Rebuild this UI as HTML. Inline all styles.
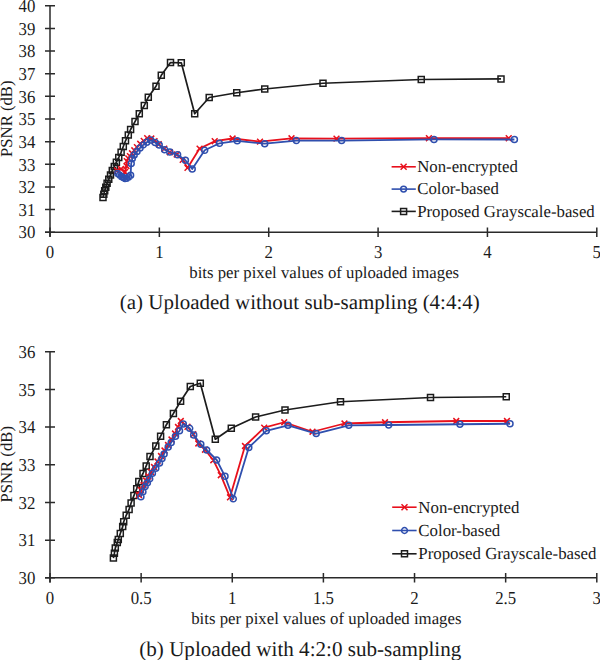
<!DOCTYPE html>
<html><head><meta charset="utf-8"><title>PSNR charts</title>
<style>html,body{margin:0;padding:0;background:#fff;}body{width:600px;height:660px;overflow:hidden;font-family:"Liberation Serif",serif;}svg{display:block;}</style>
</head><body><svg width="600" height="660" viewBox="0 0 600 660" text-rendering="geometricPrecision" font-family='"Liberation Serif", serif' fill="#1a1a1a"><path d="M50 5.8V236.79999999999998M45 232.2H596.8" stroke="#2a2a2a" stroke-width="1.5" fill="none"/><path d="M45 232.20h10M45 209.56h10M45 186.92h10M45 164.28h10M45 141.64h10M45 119.00h10M45 96.36h10M45 73.72h10M45 51.08h10M45 28.44h10M45 5.80h10M50.00 227.39999999999998v9.6M159.36 227.39999999999998v9.6M268.72 227.39999999999998v9.6M378.08 227.39999999999998v9.6M487.44 227.39999999999998v9.6M596.80 227.39999999999998v9.6" stroke="#2a2a2a" stroke-width="1.5" fill="none"/><text transform="translate(35.30 232.20) scale(1 1.09)" y="5.75" font-size="16.8" text-anchor="end">30</text><text transform="translate(35.30 209.56) scale(1 1.09)" y="5.75" font-size="16.8" text-anchor="end">31</text><text transform="translate(35.30 186.92) scale(1 1.09)" y="5.75" font-size="16.8" text-anchor="end">32</text><text transform="translate(35.30 164.28) scale(1 1.09)" y="5.75" font-size="16.8" text-anchor="end">33</text><text transform="translate(35.30 141.64) scale(1 1.09)" y="5.75" font-size="16.8" text-anchor="end">34</text><text transform="translate(35.30 119.00) scale(1 1.09)" y="5.75" font-size="16.8" text-anchor="end">35</text><text transform="translate(35.30 96.36) scale(1 1.09)" y="5.75" font-size="16.8" text-anchor="end">36</text><text transform="translate(35.30 73.72) scale(1 1.09)" y="5.75" font-size="16.8" text-anchor="end">37</text><text transform="translate(35.30 51.08) scale(1 1.09)" y="5.75" font-size="16.8" text-anchor="end">38</text><text transform="translate(35.30 28.44) scale(1 1.09)" y="5.75" font-size="16.8" text-anchor="end">39</text><text transform="translate(35.30 5.80) scale(1 1.09)" y="5.75" font-size="16.8" text-anchor="end">40</text><text transform="translate(50.00 251.40) scale(1 1.09)" y="5.75" font-size="16.8" text-anchor="middle">0</text><text transform="translate(159.36 251.40) scale(1 1.09)" y="5.75" font-size="16.8" text-anchor="middle">1</text><text transform="translate(268.72 251.40) scale(1 1.09)" y="5.75" font-size="16.8" text-anchor="middle">2</text><text transform="translate(378.08 251.40) scale(1 1.09)" y="5.75" font-size="16.8" text-anchor="middle">3</text><text transform="translate(487.44 251.40) scale(1 1.09)" y="5.75" font-size="16.8" text-anchor="middle">4</text><text transform="translate(596.80 251.40) scale(1 1.09)" y="5.75" font-size="16.8" text-anchor="middle">5</text><text x="189.3" y="277.7" font-size="16.75" text-anchor="start" >bits per pixel values of uploaded images</text><text x="119.8" y="309.3" font-size="20.98" text-anchor="start" >(a) Uploaded without sub-sampling (4:4:4)</text><text x="12.0" y="118.7" font-size="16.7" text-anchor="middle" transform="rotate(-90 12.0 118.7)">PSNR (dB)</text><polyline points="103.00,197.50 103.80,194.20 104.70,190.80 105.80,187.20 107.10,183.30 108.75,179.30 110.50,175.00 112.30,170.60 114.30,166.40 116.40,162.20 118.75,157.50 121.10,152.30 123.30,146.50 125.50,140.80 128.30,135.00 130.60,129.50 135.00,121.60 139.30,113.80 144.30,105.50 148.30,97.20 156.00,86.20 161.30,75.30 170.50,62.50 181.30,62.80 194.70,113.80 209.20,97.50 236.75,92.75 264.75,89.00 323.00,83.25 421.25,79.50 501.00,78.90" fill="none" stroke="#1c1c1c" stroke-width="1.7" stroke-linejoin="round"/><path d="M100.00 194.50h6.0v6.0h-6.0zM100.80 191.20h6.0v6.0h-6.0zM101.70 187.80h6.0v6.0h-6.0zM102.80 184.20h6.0v6.0h-6.0zM104.10 180.30h6.0v6.0h-6.0zM105.75 176.30h6.0v6.0h-6.0zM107.50 172.00h6.0v6.0h-6.0zM109.30 167.60h6.0v6.0h-6.0zM111.30 163.40h6.0v6.0h-6.0zM113.40 159.20h6.0v6.0h-6.0zM115.75 154.50h6.0v6.0h-6.0zM118.10 149.30h6.0v6.0h-6.0zM120.30 143.50h6.0v6.0h-6.0zM122.50 137.80h6.0v6.0h-6.0zM125.30 132.00h6.0v6.0h-6.0zM127.60 126.50h6.0v6.0h-6.0zM132.00 118.60h6.0v6.0h-6.0zM136.30 110.80h6.0v6.0h-6.0zM141.30 102.50h6.0v6.0h-6.0zM145.30 94.20h6.0v6.0h-6.0zM153.00 83.20h6.0v6.0h-6.0zM158.30 72.30h6.0v6.0h-6.0zM167.50 59.50h6.0v6.0h-6.0zM178.30 59.80h6.0v6.0h-6.0zM191.70 110.80h6.0v6.0h-6.0zM206.20 94.50h6.0v6.0h-6.0zM233.75 89.75h6.0v6.0h-6.0zM261.75 86.00h6.0v6.0h-6.0zM320.00 80.25h6.0v6.0h-6.0zM418.25 76.50h6.0v6.0h-6.0zM498.00 75.90h6.0v6.0h-6.0z" fill="none" stroke="#1c1c1c" stroke-width="1.5"/><polyline points="117.00,170.50 121.00,169.00 125.00,172.00 126.50,166.00 126.80,161.10 128.30,158.40 129.90,156.10 132.00,153.30 134.30,150.30 136.90,147.10 140.20,143.80 143.70,140.90 147.20,138.20 151.30,138.50 154.50,141.10 158.80,144.30 164.30,148.70 169.80,152.20 176.70,154.50 182.70,159.90 187.50,167.90 199.60,148.60 214.70,141.20 232.60,138.50 260.00,141.60 291.50,138.30 336.50,138.60 428.90,138.20 508.70,138.20" fill="none" stroke="#e8101c" stroke-width="1.8" stroke-linejoin="round"/><path d="M114.10 167.60L119.90 173.40M114.10 173.40L119.90 167.60M118.10 166.10L123.90 171.90M118.10 171.90L123.90 166.10M122.10 169.10L127.90 174.90M122.10 174.90L127.90 169.10M123.60 163.10L129.40 168.90M123.60 168.90L129.40 163.10M123.90 158.20L129.70 164.00M123.90 164.00L129.70 158.20M125.40 155.50L131.20 161.30M125.40 161.30L131.20 155.50M127.00 153.20L132.80 159.00M127.00 159.00L132.80 153.20M129.10 150.40L134.90 156.20M129.10 156.20L134.90 150.40M131.40 147.40L137.20 153.20M131.40 153.20L137.20 147.40M134.00 144.20L139.80 150.00M134.00 150.00L139.80 144.20M137.30 140.90L143.10 146.70M137.30 146.70L143.10 140.90M140.80 138.00L146.60 143.80M140.80 143.80L146.60 138.00M144.30 135.30L150.10 141.10M144.30 141.10L150.10 135.30M148.40 135.60L154.20 141.40M148.40 141.40L154.20 135.60M151.60 138.20L157.40 144.00M151.60 144.00L157.40 138.20M155.90 141.40L161.70 147.20M155.90 147.20L161.70 141.40M161.40 145.80L167.20 151.60M161.40 151.60L167.20 145.80M166.90 149.30L172.70 155.10M166.90 155.10L172.70 149.30M173.80 151.60L179.60 157.40M173.80 157.40L179.60 151.60M179.80 157.00L185.60 162.80M179.80 162.80L185.60 157.00M184.60 165.00L190.40 170.80M184.60 170.80L190.40 165.00M196.70 145.70L202.50 151.50M196.70 151.50L202.50 145.70M211.80 138.30L217.60 144.10M211.80 144.10L217.60 138.30M229.70 135.60L235.50 141.40M229.70 141.40L235.50 135.60M257.10 138.70L262.90 144.50M257.10 144.50L262.90 138.70M288.60 135.40L294.40 141.20M288.60 141.20L294.40 135.40M333.60 135.70L339.40 141.50M333.60 141.50L339.40 135.70M426.00 135.30L431.80 141.10M426.00 141.10L431.80 135.30M505.80 135.30L511.60 141.10M505.80 141.10L511.60 135.30" fill="none" stroke="#e8101c" stroke-width="1.5"/><polyline points="117.80,173.60 119.60,175.00 121.40,176.40 123.20,177.60 125.00,178.40 126.80,178.30 128.60,177.00 130.60,175.30 131.20,163.60 132.30,158.60 134.20,155.00 137.00,151.40 140.00,148.00 143.30,144.90 146.80,142.20 150.60,140.10 155.10,142.40 159.20,145.10 164.70,149.70 169.80,152.00 177.60,154.80 185.40,160.30 192.20,169.00 204.70,150.30 219.50,143.30 237.20,140.80 264.70,143.70 296.40,140.60 341.60,140.60 434.00,139.40 514.40,139.50" fill="none" stroke="#2f4fae" stroke-width="1.8" stroke-linejoin="round"/><path d="M114.80 173.60a3.0 3.0 0 1 0 6.0 0a3.0 3.0 0 1 0 -6.0 0M116.60 175.00a3.0 3.0 0 1 0 6.0 0a3.0 3.0 0 1 0 -6.0 0M118.40 176.40a3.0 3.0 0 1 0 6.0 0a3.0 3.0 0 1 0 -6.0 0M120.20 177.60a3.0 3.0 0 1 0 6.0 0a3.0 3.0 0 1 0 -6.0 0M122.00 178.40a3.0 3.0 0 1 0 6.0 0a3.0 3.0 0 1 0 -6.0 0M123.80 178.30a3.0 3.0 0 1 0 6.0 0a3.0 3.0 0 1 0 -6.0 0M125.60 177.00a3.0 3.0 0 1 0 6.0 0a3.0 3.0 0 1 0 -6.0 0M127.60 175.30a3.0 3.0 0 1 0 6.0 0a3.0 3.0 0 1 0 -6.0 0M128.20 163.60a3.0 3.0 0 1 0 6.0 0a3.0 3.0 0 1 0 -6.0 0M129.30 158.60a3.0 3.0 0 1 0 6.0 0a3.0 3.0 0 1 0 -6.0 0M131.20 155.00a3.0 3.0 0 1 0 6.0 0a3.0 3.0 0 1 0 -6.0 0M134.00 151.40a3.0 3.0 0 1 0 6.0 0a3.0 3.0 0 1 0 -6.0 0M137.00 148.00a3.0 3.0 0 1 0 6.0 0a3.0 3.0 0 1 0 -6.0 0M140.30 144.90a3.0 3.0 0 1 0 6.0 0a3.0 3.0 0 1 0 -6.0 0M143.80 142.20a3.0 3.0 0 1 0 6.0 0a3.0 3.0 0 1 0 -6.0 0M147.60 140.10a3.0 3.0 0 1 0 6.0 0a3.0 3.0 0 1 0 -6.0 0M152.10 142.40a3.0 3.0 0 1 0 6.0 0a3.0 3.0 0 1 0 -6.0 0M156.20 145.10a3.0 3.0 0 1 0 6.0 0a3.0 3.0 0 1 0 -6.0 0M161.70 149.70a3.0 3.0 0 1 0 6.0 0a3.0 3.0 0 1 0 -6.0 0M166.80 152.00a3.0 3.0 0 1 0 6.0 0a3.0 3.0 0 1 0 -6.0 0M174.60 154.80a3.0 3.0 0 1 0 6.0 0a3.0 3.0 0 1 0 -6.0 0M182.40 160.30a3.0 3.0 0 1 0 6.0 0a3.0 3.0 0 1 0 -6.0 0M189.20 169.00a3.0 3.0 0 1 0 6.0 0a3.0 3.0 0 1 0 -6.0 0M201.70 150.30a3.0 3.0 0 1 0 6.0 0a3.0 3.0 0 1 0 -6.0 0M216.50 143.30a3.0 3.0 0 1 0 6.0 0a3.0 3.0 0 1 0 -6.0 0M234.20 140.80a3.0 3.0 0 1 0 6.0 0a3.0 3.0 0 1 0 -6.0 0M261.70 143.70a3.0 3.0 0 1 0 6.0 0a3.0 3.0 0 1 0 -6.0 0M293.40 140.60a3.0 3.0 0 1 0 6.0 0a3.0 3.0 0 1 0 -6.0 0M338.60 140.60a3.0 3.0 0 1 0 6.0 0a3.0 3.0 0 1 0 -6.0 0M431.00 139.40a3.0 3.0 0 1 0 6.0 0a3.0 3.0 0 1 0 -6.0 0M511.40 139.50a3.0 3.0 0 1 0 6.0 0a3.0 3.0 0 1 0 -6.0 0" fill="none" stroke="#2f4fae" stroke-width="1.5"/><path d="M391.6 166.80H415.8" stroke="#e8101c" stroke-width="1.6"/><path d="M400.60 163.80L406.60 169.80M400.60 169.80L406.60 163.80" fill="none" stroke="#e8101c" stroke-width="1.5"/><text x="417.2" y="172.1" font-size="16.8" text-anchor="start" >Non-encrypted</text><path d="M391.6 189.10H415.8" stroke="#2f4fae" stroke-width="1.6"/><path d="M400.70 189.10a2.9 2.9 0 1 0 5.8 0a2.9 2.9 0 1 0 -5.8 0" fill="none" stroke="#2f4fae" stroke-width="1.5"/><text x="417.2" y="194.4" font-size="16.8" text-anchor="start" >Color-based</text><path d="M391.6 211.40H415.8" stroke="#1c1c1c" stroke-width="1.6"/><path d="M400.60 208.40h6.0v6.0h-6.0z" fill="none" stroke="#1c1c1c" stroke-width="1.5"/><text x="417.2" y="216.7" font-size="16.8" text-anchor="start" >Proposed Grayscale-based</text><path d="M50 351.8V582.4M45 577.8H596.8" stroke="#2a2a2a" stroke-width="1.5" fill="none"/><path d="M45 577.80h10M45 540.13h10M45 502.46h10M45 464.79h10M45 427.12h10M45 389.45h10M45 351.78h10M50.00 573.0v9.6M141.13 573.0v9.6M232.27 573.0v9.6M323.40 573.0v9.6M414.53 573.0v9.6M505.66 573.0v9.6M596.80 573.0v9.6" stroke="#2a2a2a" stroke-width="1.5" fill="none"/><text transform="translate(35.30 577.80) scale(1 1.09)" y="5.75" font-size="16.8" text-anchor="end">30</text><text transform="translate(35.30 540.13) scale(1 1.09)" y="5.75" font-size="16.8" text-anchor="end">31</text><text transform="translate(35.30 502.46) scale(1 1.09)" y="5.75" font-size="16.8" text-anchor="end">32</text><text transform="translate(35.30 464.79) scale(1 1.09)" y="5.75" font-size="16.8" text-anchor="end">33</text><text transform="translate(35.30 427.12) scale(1 1.09)" y="5.75" font-size="16.8" text-anchor="end">34</text><text transform="translate(35.30 389.45) scale(1 1.09)" y="5.75" font-size="16.8" text-anchor="end">35</text><text transform="translate(35.30 351.78) scale(1 1.09)" y="5.75" font-size="16.8" text-anchor="end">36</text><text transform="translate(50.00 597.50) scale(1 1.09)" y="5.75" font-size="16.8" text-anchor="middle">0</text><text transform="translate(141.13 597.50) scale(1 1.09)" y="5.75" font-size="16.8" text-anchor="middle">0.5</text><text transform="translate(232.27 597.50) scale(1 1.09)" y="5.75" font-size="16.8" text-anchor="middle">1</text><text transform="translate(323.40 597.50) scale(1 1.09)" y="5.75" font-size="16.8" text-anchor="middle">1.5</text><text transform="translate(414.53 597.50) scale(1 1.09)" y="5.75" font-size="16.8" text-anchor="middle">2</text><text transform="translate(505.66 597.50) scale(1 1.09)" y="5.75" font-size="16.8" text-anchor="middle">2.5</text><text transform="translate(596.80 597.50) scale(1 1.09)" y="5.75" font-size="16.8" text-anchor="middle">3</text><text x="191.2" y="623.5" font-size="16.8" text-anchor="start" >bits per pixel values of uploaded images</text><text x="139.3" y="655.5" font-size="21.08" text-anchor="start" >(b) Uploaded with 4:2:0 sub-sampling</text><text x="12.0" y="464.3" font-size="16.7" text-anchor="middle" transform="rotate(-90 12.0 464.3)">PSNR (dB)</text><polyline points="113.40,558.10 114.40,553.20 115.30,548.10 117.30,542.40 118.30,539.40 120.30,533.50 122.70,526.60 123.70,521.70 126.20,515.30 129.10,509.40 131.10,503.00 133.90,495.60 136.70,488.80 138.80,481.40 143.00,473.50 146.20,465.90 150.00,456.60 155.80,445.90 160.60,436.20 166.40,424.70 173.40,413.50 180.60,401.20 190.30,386.50 200.30,383.20 215.30,439.20 231.30,428.30 255.60,417.00 285.00,410.00 340.50,401.75 430.50,397.50 506.25,396.75" fill="none" stroke="#1c1c1c" stroke-width="1.7" stroke-linejoin="round"/><path d="M110.40 555.10h6.0v6.0h-6.0zM111.40 550.20h6.0v6.0h-6.0zM112.30 545.10h6.0v6.0h-6.0zM114.30 539.40h6.0v6.0h-6.0zM115.30 536.40h6.0v6.0h-6.0zM117.30 530.50h6.0v6.0h-6.0zM119.70 523.60h6.0v6.0h-6.0zM120.70 518.70h6.0v6.0h-6.0zM123.20 512.30h6.0v6.0h-6.0zM126.10 506.40h6.0v6.0h-6.0zM128.10 500.00h6.0v6.0h-6.0zM130.90 492.60h6.0v6.0h-6.0zM133.70 485.80h6.0v6.0h-6.0zM135.80 478.40h6.0v6.0h-6.0zM140.00 470.50h6.0v6.0h-6.0zM143.20 462.90h6.0v6.0h-6.0zM147.00 453.60h6.0v6.0h-6.0zM152.80 442.90h6.0v6.0h-6.0zM157.60 433.20h6.0v6.0h-6.0zM163.40 421.70h6.0v6.0h-6.0zM170.40 410.50h6.0v6.0h-6.0zM177.60 398.20h6.0v6.0h-6.0zM187.30 383.50h6.0v6.0h-6.0zM197.30 380.20h6.0v6.0h-6.0zM212.30 436.20h6.0v6.0h-6.0zM228.30 425.30h6.0v6.0h-6.0zM252.60 414.00h6.0v6.0h-6.0zM282.00 407.00h6.0v6.0h-6.0zM337.50 398.75h6.0v6.0h-6.0zM427.50 394.50h6.0v6.0h-6.0zM503.25 393.75h6.0v6.0h-6.0z" fill="none" stroke="#1c1c1c" stroke-width="1.5"/><polyline points="139.00,495.00 141.00,490.00 143.50,485.00 146.00,480.50 148.50,476.50 151.00,472.00 154.00,467.00 157.50,461.50 161.00,456.00 164.50,450.50 168.00,445.00 171.50,439.50 175.00,433.50 178.00,427.00 180.80,421.00 187.50,426.80 193.30,434.30 198.30,443.50 205.00,449.70 213.30,460.20 220.80,475.20 230.00,497.30 245.00,446.00 264.20,427.70 284.25,422.25 312.50,431.75 344.50,423.50 385.00,422.25 456.25,421.00 507.00,421.00" fill="none" stroke="#e8101c" stroke-width="1.8" stroke-linejoin="round"/><path d="M136.10 492.10L141.90 497.90M136.10 497.90L141.90 492.10M138.10 487.10L143.90 492.90M138.10 492.90L143.90 487.10M140.60 482.10L146.40 487.90M140.60 487.90L146.40 482.10M143.10 477.60L148.90 483.40M143.10 483.40L148.90 477.60M145.60 473.60L151.40 479.40M145.60 479.40L151.40 473.60M148.10 469.10L153.90 474.90M148.10 474.90L153.90 469.10M151.10 464.10L156.90 469.90M151.10 469.90L156.90 464.10M154.60 458.60L160.40 464.40M154.60 464.40L160.40 458.60M158.10 453.10L163.90 458.90M158.10 458.90L163.90 453.10M161.60 447.60L167.40 453.40M161.60 453.40L167.40 447.60M165.10 442.10L170.90 447.90M165.10 447.90L170.90 442.10M168.60 436.60L174.40 442.40M168.60 442.40L174.40 436.60M172.10 430.60L177.90 436.40M172.10 436.40L177.90 430.60M175.10 424.10L180.90 429.90M175.10 429.90L180.90 424.10M177.90 418.10L183.70 423.90M177.90 423.90L183.70 418.10M184.60 423.90L190.40 429.70M184.60 429.70L190.40 423.90M190.40 431.40L196.20 437.20M190.40 437.20L196.20 431.40M195.40 440.60L201.20 446.40M195.40 446.40L201.20 440.60M202.10 446.80L207.90 452.60M202.10 452.60L207.90 446.80M210.40 457.30L216.20 463.10M210.40 463.10L216.20 457.30M217.90 472.30L223.70 478.10M217.90 478.10L223.70 472.30M227.10 494.40L232.90 500.20M227.10 500.20L232.90 494.40M242.10 443.10L247.90 448.90M242.10 448.90L247.90 443.10M261.30 424.80L267.10 430.60M261.30 430.60L267.10 424.80M281.35 419.35L287.15 425.15M281.35 425.15L287.15 419.35M309.60 428.85L315.40 434.65M309.60 434.65L315.40 428.85M341.60 420.60L347.40 426.40M341.60 426.40L347.40 420.60M382.10 419.35L387.90 425.15M382.10 425.15L387.90 419.35M453.35 418.10L459.15 423.90M453.35 423.90L459.15 418.10M504.10 418.10L509.90 423.90M504.10 423.90L509.90 418.10" fill="none" stroke="#e8101c" stroke-width="1.5"/><polyline points="140.90,496.70 142.90,491.80 145.20,486.50 147.40,482.70 149.70,478.90 152.40,473.30 155.80,468.30 159.50,463.00 162.00,458.50 164.10,453.90 168.20,447.10 171.20,442.60 175.50,436.30 179.50,430.80 183.30,423.90 189.70,428.30 193.70,435.00 200.80,444.20 206.70,450.00 216.70,460.00 225.00,476.30 233.30,498.80 248.80,447.50 266.30,430.80 288.00,425.30 316.20,433.60 348.70,425.30 388.75,425.00 460.00,424.25 510.00,423.75" fill="none" stroke="#2f4fae" stroke-width="1.8" stroke-linejoin="round"/><path d="M137.90 496.70a3.0 3.0 0 1 0 6.0 0a3.0 3.0 0 1 0 -6.0 0M139.90 491.80a3.0 3.0 0 1 0 6.0 0a3.0 3.0 0 1 0 -6.0 0M142.20 486.50a3.0 3.0 0 1 0 6.0 0a3.0 3.0 0 1 0 -6.0 0M144.40 482.70a3.0 3.0 0 1 0 6.0 0a3.0 3.0 0 1 0 -6.0 0M146.70 478.90a3.0 3.0 0 1 0 6.0 0a3.0 3.0 0 1 0 -6.0 0M149.40 473.30a3.0 3.0 0 1 0 6.0 0a3.0 3.0 0 1 0 -6.0 0M152.80 468.30a3.0 3.0 0 1 0 6.0 0a3.0 3.0 0 1 0 -6.0 0M156.50 463.00a3.0 3.0 0 1 0 6.0 0a3.0 3.0 0 1 0 -6.0 0M159.00 458.50a3.0 3.0 0 1 0 6.0 0a3.0 3.0 0 1 0 -6.0 0M161.10 453.90a3.0 3.0 0 1 0 6.0 0a3.0 3.0 0 1 0 -6.0 0M165.20 447.10a3.0 3.0 0 1 0 6.0 0a3.0 3.0 0 1 0 -6.0 0M168.20 442.60a3.0 3.0 0 1 0 6.0 0a3.0 3.0 0 1 0 -6.0 0M172.50 436.30a3.0 3.0 0 1 0 6.0 0a3.0 3.0 0 1 0 -6.0 0M176.50 430.80a3.0 3.0 0 1 0 6.0 0a3.0 3.0 0 1 0 -6.0 0M180.30 423.90a3.0 3.0 0 1 0 6.0 0a3.0 3.0 0 1 0 -6.0 0M186.70 428.30a3.0 3.0 0 1 0 6.0 0a3.0 3.0 0 1 0 -6.0 0M190.70 435.00a3.0 3.0 0 1 0 6.0 0a3.0 3.0 0 1 0 -6.0 0M197.80 444.20a3.0 3.0 0 1 0 6.0 0a3.0 3.0 0 1 0 -6.0 0M203.70 450.00a3.0 3.0 0 1 0 6.0 0a3.0 3.0 0 1 0 -6.0 0M213.70 460.00a3.0 3.0 0 1 0 6.0 0a3.0 3.0 0 1 0 -6.0 0M222.00 476.30a3.0 3.0 0 1 0 6.0 0a3.0 3.0 0 1 0 -6.0 0M230.30 498.80a3.0 3.0 0 1 0 6.0 0a3.0 3.0 0 1 0 -6.0 0M245.80 447.50a3.0 3.0 0 1 0 6.0 0a3.0 3.0 0 1 0 -6.0 0M263.30 430.80a3.0 3.0 0 1 0 6.0 0a3.0 3.0 0 1 0 -6.0 0M285.00 425.30a3.0 3.0 0 1 0 6.0 0a3.0 3.0 0 1 0 -6.0 0M313.20 433.60a3.0 3.0 0 1 0 6.0 0a3.0 3.0 0 1 0 -6.0 0M345.70 425.30a3.0 3.0 0 1 0 6.0 0a3.0 3.0 0 1 0 -6.0 0M385.75 425.00a3.0 3.0 0 1 0 6.0 0a3.0 3.0 0 1 0 -6.0 0M457.00 424.25a3.0 3.0 0 1 0 6.0 0a3.0 3.0 0 1 0 -6.0 0M507.00 423.75a3.0 3.0 0 1 0 6.0 0a3.0 3.0 0 1 0 -6.0 0" fill="none" stroke="#2f4fae" stroke-width="1.5"/><path d="M392.2 507.20H416.6" stroke="#e8101c" stroke-width="1.6"/><path d="M401.50 504.20L407.50 510.20M401.50 510.20L407.50 504.20" fill="none" stroke="#e8101c" stroke-width="1.5"/><text x="418.3" y="512.5" font-size="16.85" text-anchor="start" >Non-encrypted</text><path d="M392.2 530.50H416.6" stroke="#2f4fae" stroke-width="1.6"/><path d="M401.60 530.50a2.9 2.9 0 1 0 5.8 0a2.9 2.9 0 1 0 -5.8 0" fill="none" stroke="#2f4fae" stroke-width="1.5"/><text x="418.3" y="535.8" font-size="16.85" text-anchor="start" >Color-based</text><path d="M392.2 553.80H416.6" stroke="#1c1c1c" stroke-width="1.6"/><path d="M401.50 550.80h6.0v6.0h-6.0z" fill="none" stroke="#1c1c1c" stroke-width="1.5"/><text x="418.3" y="559.1" font-size="16.85" text-anchor="start" >Proposed Grayscale-based</text></svg></body></html>
